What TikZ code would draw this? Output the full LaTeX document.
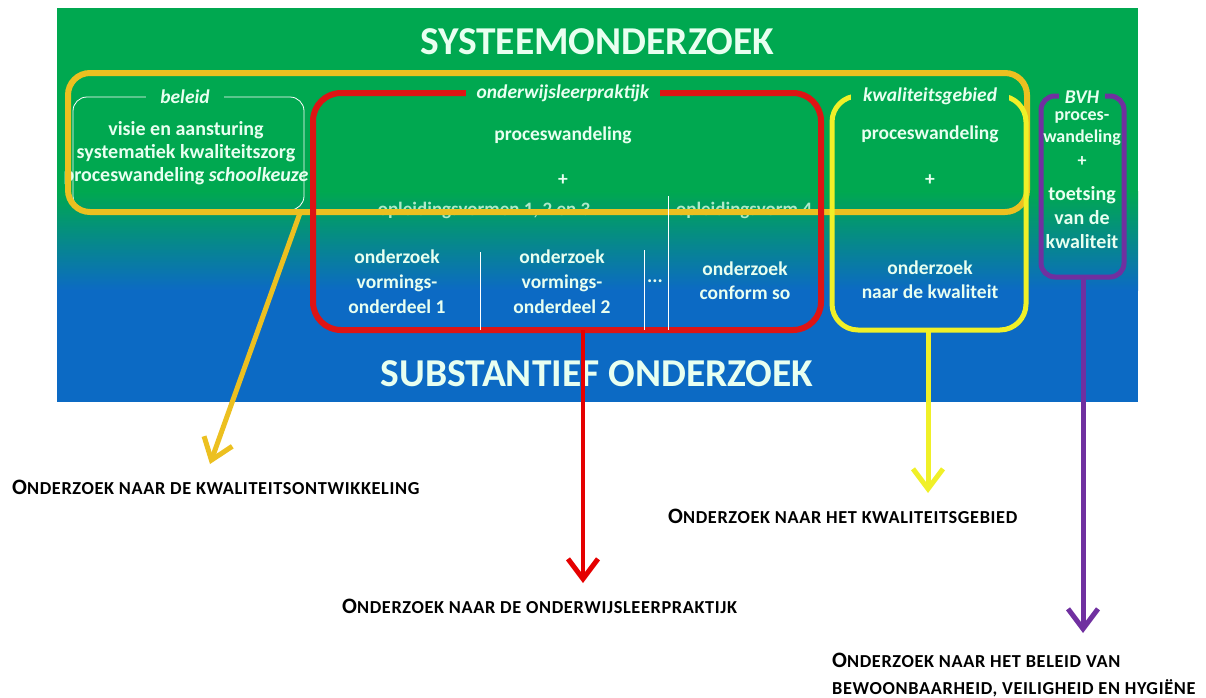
\documentclass[tikz,border=0pt]{standalone}
\usepackage{fontspec}
\setmainfont{Carlito}
\usetikzlibrary{arrows.meta}
\definecolor{bggreen}{RGB}{0,168,80}
\definecolor{bgblue}{RGB}{12,106,196}
\definecolor{gold}{RGB}{236,192,32}
\definecolor{yel}{RGB}{240,240,40}
\definecolor{redb}{RGB}{222,20,20}
\definecolor{purp}{RGB}{112,48,160}
\definecolor{txt}{RGB}{232,255,240}
\newcommand\myO{{\fontsize{22}{24}\selectfont O}}
\tikzset{
  title/.style={text=txt, font=\fontsize{39.5}{44}\selectfont\bfseries},
  intext/.style={text=txt, font=\fontsize{19.5}{25}\selectfont\bfseries, align=center, inner sep=0pt},
  boxlabel/.style={text=txt, font=\fontsize{19.5}{22}\selectfont\bfseries\itshape, fill=bggreen, inner ysep=3pt},
  hidlabel/.style={text=txt!75!bggreen, font=\fontsize{19}{22}\selectfont\bfseries},
  sep/.style={draw=white, line width=0.8pt},
  botlabel/.style={text=black, font=\fontsize{18.3}{27}\selectfont\bfseries\addfontfeature{LetterSpace=3.5}, anchor=base west, inner sep=0pt, align=left},
  arr/.style={line width=5pt, -{Straight Barb[length=20pt,width=30pt,line width=5pt]}}
}
\begin{document}
\begin{tikzpicture}[x=1pt,y=-1pt]
\useasboundingbox (0,0) rectangle (1206,697);
% background
\fill[bggreen] (57,8) rectangle (1138,192);
\shade[top color=bggreen, bottom color=bgblue] (57,191.5) rectangle (1138,290.5);
\fill[bgblue] (57,290) rectangle (1138,402);
\node[title] (sys) at (597,42) {SYSTEEMONDERZOEK};
\node[title] (sub) at (597,374) {SUBSTANTIEF ONDERZOEK};
% labels half hidden behind the gold line
\node[hidlabel] (ov123) at (484,210) {opleidingsvormen 1, 2 en 3};
\node[hidlabel] (ov4) at (744,210) {opleidingsvorm 4};
% beleid box
\draw[white, line width=0.8pt, rounded corners=14pt] (73,97) rectangle (304,210);
\node[boxlabel, inner xsep=14pt] (beleid) at (185,97) {beleid};
\node[intext, font=\fontsize{20}{23}\selectfont\bfseries] (beltxt) at (186,153) {visie en aansturing\\systematiek kwaliteitszorg\\proceswandeling \textit{schoolkeuze}};
% gold box
\draw[gold, line width=6pt, rounded corners=22pt] (68,73) rectangle (1027,212);
% red box
\draw[redb, line width=6pt, rounded corners=28pt] (313,93) rectangle (821,330);
\node[boxlabel, inner xsep=11pt] (olp) at (563,93) {onderwijsleerpraktijk};
\node[intext] (pw1) at (563,135) {proceswandeling};
\node[intext] (plus1) at (563,180) {+};
\draw[sep] (480,252) -- (480,330);
\draw[sep] (644,250) -- (644,330);
\draw[sep] (668,196) -- (668,330);
\node[intext] (c1) at (397,282) {onderzoek\\vormings-\\onderdeel 1};
\node[intext] (c2) at (562,282) {onderzoek\\vormings-\\onderdeel 2};
\node[intext] (dots) at (655,281) {...};
\node[intext, font=\fontsize{19.5}{24}\selectfont\bfseries] (c4) at (745,281) {onderzoek\\conform so};
% yellow box
\draw[yel, line width=5pt, rounded corners=26pt] (832,96) rectangle (1026,330);
\node[boxlabel, inner xsep=12pt] (kg) at (930,96) {kwaliteitsgebied};
\node[intext] (pw2) at (930,134) {proceswandeling};
\node[intext] (plus2) at (930,180) {+};
\node[intext, font=\fontsize{19.5}{24}\selectfont\bfseries] (nk) at (930,280) {onderzoek\\naar de kwaliteit};
% purple box
\draw[purp, line width=5pt, rounded corners=14pt] (1041,96) rectangle (1124,277);
\node[boxlabel, inner xsep=6pt] (bvh) at (1082,97) {BVH};
\node[intext, font=\fontsize{18}{22}\selectfont\bfseries] (pw3) at (1082,129) {proces-\\wandeling};
\node[intext, font=\fontsize{18}{22}\selectfont\bfseries] (plus3) at (1082,162) {+};
\node[intext, font=\fontsize{20}{24}\selectfont\bfseries] (tk) at (1082,218) {toetsing\\van de\\kwaliteit};
% bottom labels
\node[botlabel] (t1) at (12,494) {\myO NDERZOEK NAAR DE KWALITEITSONTWIKKELING};
\node[botlabel] (t2) at (342,613) {\myO NDERZOEK NAAR DE ONDERWIJSLEERPRAKTIJK};
\node[botlabel] (t3) at (668,523) {\myO NDERZOEK NAAR HET KWALITEITSGEBIED};
\node[botlabel] (t4) at (832,694) {\myO NDERZOEK NAAR HET BELEID VAN\\BEWOONBAARHEID, VEILIGHEID EN HYGIËNE};
% arrow anchors
\coordinate (sg) at (300,213);
\coordinate (eg) at (210,464);
\coordinate (sr) at (583,330);
\coordinate (er) at (583,583);
\coordinate (sy) at (928,330);
\coordinate (ey) at (928,493);
\coordinate (sp) at (1083,277);
\coordinate (ep) at (1083,633);
\draw[arr, gold] (sg) -- (eg);
\draw[arr, red!90!black, line width=4pt] (sr) -- (er);
\draw[arr, yel] (sy) -- (ey);
\draw[arr, purp] (sp) -- (ep);
\end{tikzpicture}
\end{document}
